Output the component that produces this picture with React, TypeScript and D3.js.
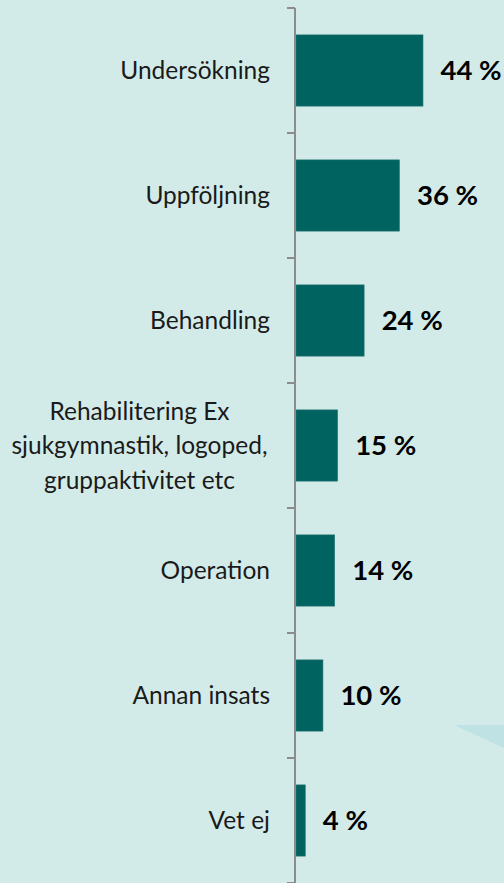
import React from "react";
import * as d3 from "d3";

const categories: string[][] = [
  ["Undersökning"],
  ["Uppföljning"],
  ["Behandling"],
  ["Rehabilitering Ex", "sjukgymnastik, logoped,", "gruppaktivitet etc"],
  ["Operation"],
  ["Annan insats"],
  ["Vet ej"],
];
const values: number[] = [44, 36, 24, 15, 14, 10, 4];
const valueLabels: string[] = ["44 %", "36 %", "24 %", "15 %", "14 %", "10 %", "4 %"];

const W = 504;
const H = 883;
const axisX = 295;
const top = 8;
const bottom = 883;
const font = "Lato, 'Open Sans', sans-serif";

export default function App() {
  const ids = categories.map((_, i) => String(i));
  const y = d3.scaleBand<string>().domain(ids).range([top, bottom]).paddingInner(0.43).paddingOuter(0.215);
  const yOuter = d3.scaleBand<string>().domain(ids).range([top, bottom]);
  const x = d3.scaleLinear().domain([0, 44]).range([293.5, 423]);
  const barStart = axisX + 1;
  const ticks = d3.range(categories.length + 1).map((i) => top + i * yOuter.step());

  return (
    <svg width={W} height={H} style={{ position: "absolute", left: 0, top: 0, display: "block" }}>
      <rect x={0} y={0} width={W} height={H} fill="#d3ebe8" />
      <polygon points="454,725 504,725 504,748" fill="#bfe2e4" />
      {categories.map((lines, i) => {
        const id = ids[i];
        const cy = (y(id) as number) + y.bandwidth() / 2;
        const lh = 34.5;
        const startY = cy - ((lines.length - 1) * lh) / 2;
        const multi = lines.length > 1;
        return (
          <g key={id}>
            <rect
              x={barStart}
              y={y(id)}
              width={x(values[i]) - barStart}
              height={y.bandwidth()}
              fill="#006360"
              stroke="#2a7a76"
              strokeWidth={0.6}
            />
            <text
              x={x(values[i]) + 17.5}
              y={cy}
              dy="0.36em"
              fontFamily={font}
              fontWeight={700}
              fontSize={27.5}
              fill="#000"
            >
              {valueLabels[i]}
            </text>
            <text
              fontFamily={font}
              fontSize={24.5}
              fill="#1a1a1a"
              textAnchor={multi ? "middle" : "end"}
            >
              {lines.map((l, j) => (
                <tspan key={j} x={multi ? 139.5 : 270} y={startY + j * lh} dy="0.35em">
                  {l}
                </tspan>
              ))}
            </text>
          </g>
        );
      })}
      <line x1={axisX} x2={axisX} y1={top} y2={bottom} stroke="#8c8c8c" strokeWidth={2} />
      {ticks.map((t, i) => (
        <line key={i} x1={axisX - 8} x2={axisX} y1={t} y2={t} stroke="#8c8c8c" strokeWidth={2} />
      ))}
    </svg>
  );
}
